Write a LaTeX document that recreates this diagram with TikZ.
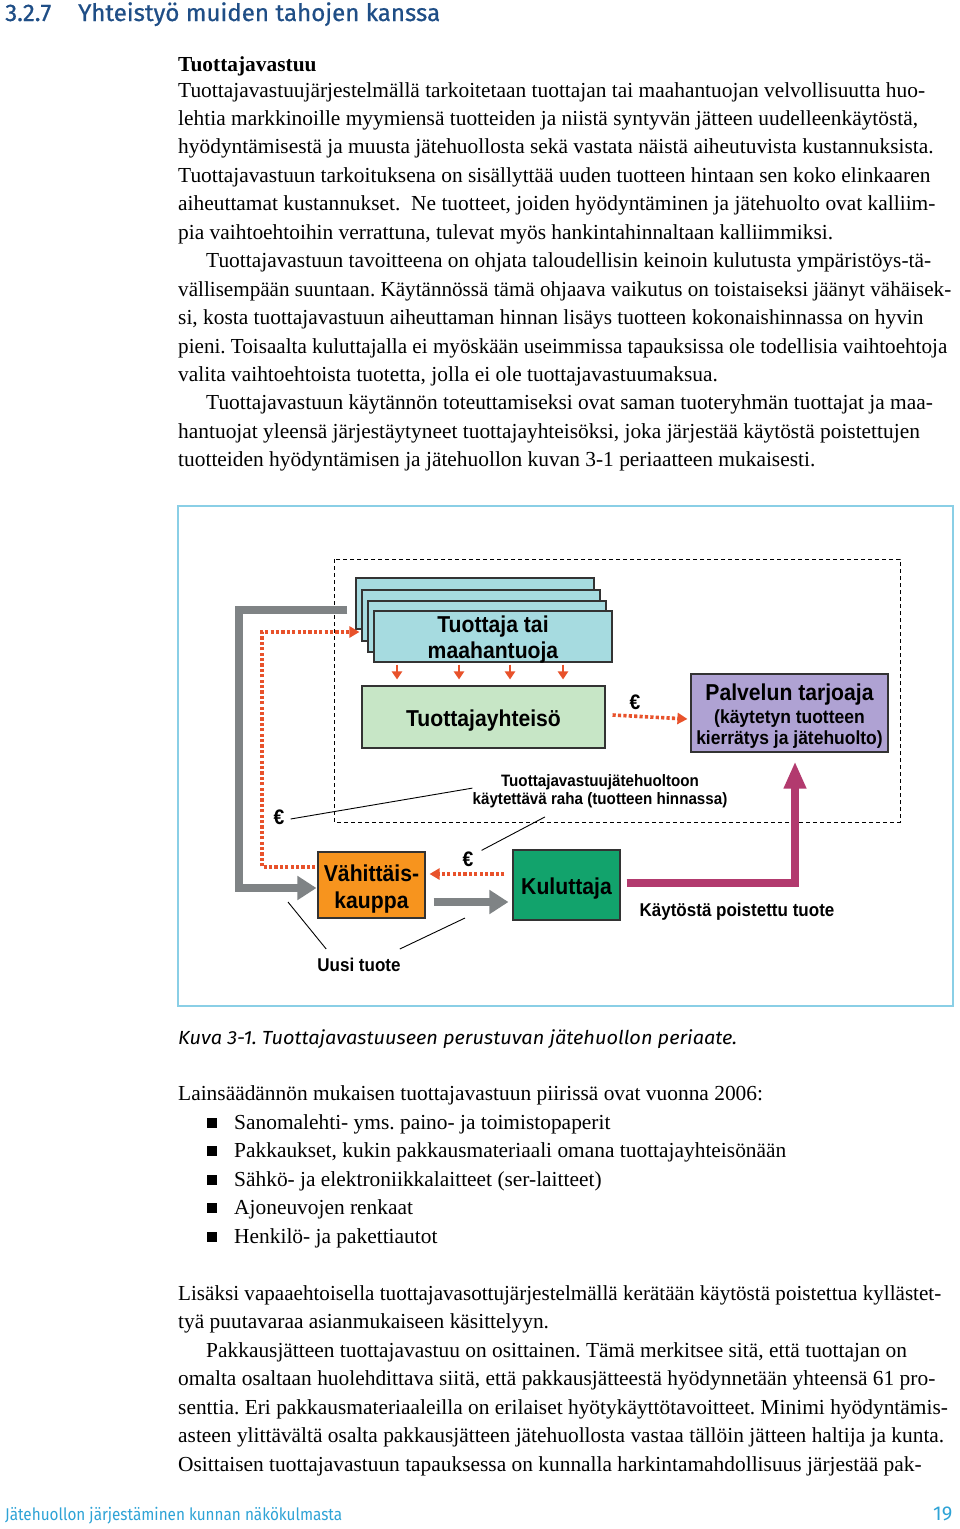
\documentclass[tikz,border=0pt]{standalone}
\usepackage{fontspec}
\setmainfont{Liberation Serif}
\newfontfamily\hsans{Fira Sans}
\newfontfamily\hsansh[FakeBold=0.7]{Fira Sans}
\newfontfamily\dsans[FakeStretch=0.92]{Liberation Sans}
\usetikzlibrary{arrows.meta}
\definecolor{navy}{HTML}{1F4E86}
\definecolor{footc}{HTML}{2EA3D6}
\definecolor{framec}{HTML}{8ACFE6}
\definecolor{cyanf}{HTML}{A6DBE0}
\definecolor{greenf}{HTML}{C7E6C6}
\definecolor{lavf}{HTML}{AFA2D3}
\definecolor{orangef}{HTML}{F7941E}
\definecolor{kulf}{HTML}{12A36C}
\definecolor{grayar}{HTML}{7F8385}
\definecolor{redc}{HTML}{E8522B}
\definecolor{magc}{HTML}{B23A6E}
\newcommand\fitw[2]{\resizebox{#1}{\height}{#2}}
\begin{document}
\frenchspacing
\begin{tikzpicture}[x=1pt,y=-1pt,
  every node/.style={inner sep=0pt},
  body/.style={anchor=base west,font=\fontsize{21.4}{28}\selectfont},
  box/.style={draw=black!80,line width=1.1pt},
  bfont/.style={align=center,font=\dsans\bfseries\fontsize{23}{26}\selectfont},
  lbl/.style={font=\dsans\bfseries\fontsize{18.5}{21}\selectfont},
  reddot/.style={draw=redc,line width=3.6pt,dash pattern=on 3.2pt off 2.2pt},
  redtip/.style={-{Triangle[length=10pt,width=11pt]}},
  grayarw/.style={draw=grayar,line width=8.5pt,-{Triangle[length=19pt,width=23pt]}},
  leader/.style={draw=black,line width=0.9pt},
  sqbullet/.style={fill=black,minimum size=10pt}
]
\useasboundingbox (0,0) rectangle (960,1529);
\fill[white] (0,0) rectangle (960,1529);

% ---------- heading ----------
\node[anchor=base west,font=\hsansh\fontsize{24}{28}\selectfont,text=navy] (sec) at (5,21) {3.2.7};
\node[anchor=base west,font=\hsansh\fontsize{24}{28}\selectfont,text=navy] (sect) at (78,21) {\fitw{362pt}{Yhteistyö muiden tahojen kanssa}};

% ---------- upper body text ----------
\node[body] (h1) at (178,71) {\bfseries Tuottajavastuu};
\node[body] (l1) at (178,97) {Tuottajavastuujärjestelmällä tarkoitetaan tuottajan tai maahantuojan velvollisuutta huo-};
\node[body] (l2) at (178,125.45) {lehtia markkinoille myymiensä tuotteiden ja niistä syntyvän jätteen uudelleenkäytöstä,};
\node[body] (l3) at (178,153.9) {hyödyntämisestä ja muusta jätehuollosta sekä vastata näistä aiheutuvista kustannuksista.};
\node[body] (l4) at (178,182.35) {Tuottajavastuun tarkoituksena on sisällyttää uuden tuotteen hintaan sen koko elinkaaren};
\node[body] (l5) at (178,210.8) {aiheuttamat kustannukset.\ \ Ne tuotteet, joiden hyödyntäminen ja jätehuolto ovat kalliim-};
\node[body] (l6) at (178,239.25) {pia vaihtoehtoihin verrattuna, tulevat myös hankintahinnaltaan kalliimmiksi.};
\node[body] (l7) at (206,267.7) {Tuottajavastuun tavoitteena on ohjata taloudellisin keinoin kulutusta ympäristöys-tä-};
\node[body] (l8) at (178,296.15) {\fitw{773pt}{vällisempään suuntaan. Käytännössä tämä ohjaava vaikutus on toistaiseksi jäänyt vähäisek-}};
\node[body] (l9) at (178,324.6) {si, kosta tuottajavastuun aiheuttaman hinnan lisäys tuotteen kokonaishinnassa on hyvin};
\node[body] (l10) at (178,353.05) {\fitw{769pt}{pieni. Toisaalta kuluttajalla ei myöskään useimmissa tapauksissa ole todellisia vaihtoehtoja}};
\node[body] (l11) at (178,381.5) {valita vaihtoehtoista tuotetta, jolla ei ole tuottajavastuumaksua.};
\node[body] (l12) at (206,409.95) {Tuottajavastuun käytännön toteuttamiseksi ovat saman tuoteryhmän tuottajat ja maa-};
\node[body] (l13) at (178,438.4) {hantuojat yleensä järjestäytyneet tuottajayhteisöksi, joka järjestää käytöstä poistettujen};
\node[body] (l14) at (178,466.85) {tuotteiden hyödyntämisen ja jätehuollon kuvan 3-1 periaatteen mukaisesti.};

% ---------- figure frame ----------
\draw[framec,line width=1.6pt] (178,506) rectangle (953,1006);
\draw[black,line width=0.9pt,dash pattern=on 4pt off 3pt] (334,559) rectangle (900,822);

% ---------- boxes ----------
\node[box,fill=cyanf,minimum width=238pt,minimum height=51pt] (p1) at (475,603.5) {};
\node[box,fill=cyanf,minimum width=238pt,minimum height=51pt] (p2) at (481,615.5) {};
\node[box,fill=cyanf,minimum width=238pt,minimum height=51pt] (p3) at (487,626.5) {};
\node[box,fill=cyanf,minimum width=238pt,minimum height=51pt] (p4) at (493,636.5) {};
\node[bfont] (p4t) at (493,640) {Tuottaja tai\\maahantuoja};
\node[box,fill=greenf,minimum width=243pt,minimum height=62pt] (ty) at (483.5,717) {};
\node[bfont] (tyt) at (483.5,721) {Tuottajayhteisö};
\node[box,fill=lavf,minimum width=197pt,minimum height=78pt] (pt) at (789.5,713) {};
\node[align=center,font=\dsans\bfseries\fontsize{19}{21}\selectfont] (ptt) at (789.5,716) {{\fontsize{23}{26}\selectfont Palvelun tarjoaja}\\[2pt](käytetyn tuotteen\\kierrätys ja jätehuolto)};
\node[box,fill=orangef,minimum width=107pt,minimum height=66pt] (vk) at (371.5,885) {};
\node[bfont] (vkt) at (371.5,889) {Vähittäis-\\[1pt]kauppa};
\node[box,fill=kulf,minimum width=107pt,minimum height=70pt] (ku) at (566.5,885) {};
\node[bfont] (kut) at (566.5,889) {Kuluttaja};

% ---------- gray flow (new product) ----------
\coordinate (gc1) at (239,610);
\coordinate (gc2) at (239,888);
\draw[grayarw] ([xshift=-8pt]p1.west |- gc1) -- (gc1) -- (gc2) -- ([xshift=-1pt]vk.west |- gc2);
\draw[grayarw] ([xshift=8pt,yshift=-17pt]vk.east) -- ([xshift=-4pt,yshift=-17pt]ku.west);

% ---------- magenta flow (used product) ----------
\draw[draw=magc,line width=8pt,-{Triangle[length=27pt,width=21pt]}] ([xshift=6pt,yshift=2pt]ku.east) -| ([xshift=5.5pt,yshift=-9pt]pt.south);

% ---------- red money flows ----------
\coordinate (rc1) at (262,867);
\coordinate (rc2) at (262,632);
\draw[reddot,redtip] ([xshift=-2pt]vk.west |- rc1) -- (rc1) -- (rc2) -- ([xshift=-2pt]p2.west |- rc2);
\draw[reddot,redtip] ([xshift=-8pt,yshift=11pt]ku.west) -- ([xshift=4pt,yshift=11pt]vk.east);
\draw[reddot,redtip] ([xshift=7pt,yshift=2pt]ty.east) -- ([xshift=-3pt,yshift=-2pt]pt.west |- ty.east);
\foreach \xx in {397,459,510,563}{
  \draw[draw=redc,line width=2pt,-{Triangle[length=8pt,width=10pt]}] ([yshift=-2pt]p4.south -| \xx,0) -- ([yshift=6pt]ty.north -| \xx,0);
}

% ---------- labels ----------
\node[font=\dsans\bfseries\fontsize{21}{24}\selectfont] (eur1) at (279,817) {€};
\node[font=\dsans\bfseries\fontsize{21}{24}\selectfont] (eur2) at (635,702) {€};
\node[font=\dsans\bfseries\fontsize{21}{24}\selectfont] (eur3) at (468,859) {€};
\node[align=center,font=\dsans\bfseries\fontsize{16.5}{18}\selectfont] (raha) at (600,791) {Tuottajavastuujätehuoltoon\\käytettävä raha (tuotteen hinnassa)};
\node[lbl] (kpt) at (737,912) {Käytöstä poistettu tuote};
\node[lbl] (uusi) at (359,965) {Uusi tuote};

\coordinate (ug1) at (288,902);
\coordinate (ug2) at (465,918);
\draw[leader] ([xshift=6pt,yshift=-2pt]eur1.east) -- ([yshift=-14pt]raha.north west);
\draw[leader] ([xshift=-55pt,yshift=-9pt]raha.south) -- ([xshift=8pt,yshift=1pt]eur3.north east);
\draw[leader] ([xshift=9pt,yshift=9pt]uusi.north west) -- (ug1);
\draw[leader] ([xshift=-1pt,yshift=9pt]uusi.north east) -- (ug2);

% ---------- caption ----------
\node[anchor=base west,font=\hsans\itshape\fontsize{19}{22}\selectfont] (cap) at (178,1044) {\fitw{559pt}{Kuva 3-1. Tuottajavastuuseen perustuvan jätehuollon periaate.}};

% ---------- lower body ----------
\node[body] (m0) at (178,1100) {Lainsäädännön mukaisen tuottajavastuun piirissä ovat vuonna 2006:};
\node[sqbullet] (b1) at (212,1122.5) {};
\node[sqbullet] (b2) at (212,1151) {};
\node[sqbullet] (b3) at (212,1179.5) {};
\node[sqbullet] (b4) at (212,1208) {};
\node[sqbullet] (b5) at (212,1236.5) {};
\node[body] (m1) at (234,1129) {Sanomalehti- yms. paino- ja toimistopaperit};
\node[body] (m2) at (234,1157.5) {Pakkaukset, kukin pakkausmateriaali omana tuottajayhteisönään};
\node[body] (m3) at (234,1186) {Sähkö- ja elektroniikkalaitteet (ser-laitteet)};
\node[body] (m4) at (234,1214.5) {Ajoneuvojen renkaat};
\node[body] (m5) at (234,1243) {Henkilö- ja pakettiautot};

\node[body] (n1) at (178,1300) {\fitw{763pt}{Lisäksi vapaaehtoisella tuottajavasottujärjestelmällä kerätään käytöstä poistettua kyllästet-}};
\node[body] (n2) at (178,1328.5) {tyä puutavaraa asianmukaiseen käsittelyyn.};
\node[body] (n3) at (206,1357) {Pakkausjätteen tuottajavastuu on osittainen. Tämä merkitsee sitä, että tuottajan on};
\node[body] (n4) at (178,1385.5) {omalta osaltaan huolehdittava siitä, että pakkausjätteestä hyödynnetään yhteensä 61 pro-};
\node[body] (n5) at (178,1414) {senttia. Eri pakkausmateriaaleilla on erilaiset hyötykäyttötavoitteet. Minimi hyödyntämis-};
\node[body] (n6) at (178,1442.5) {asteen ylittävältä osalta pakkausjätteen jätehuollosta vastaa tällöin jätteen haltija ja kunta.};
\node[body] (n7) at (178,1471) {Osittaisen tuottajavastuun tapauksessa on kunnalla harkintamahdollisuus järjestää pak-};

% ---------- footer ----------
\node[anchor=base west,font=\hsans\fontsize{17}{20}\selectfont,text=footc] (foot) at (5,1520) {\fitw{337pt}{Jätehuollon järjestäminen kunnan näkökulmasta}};
\node[anchor=base west,font=\hsans\fontsize{20}{22}\selectfont,text=footc] (pg) at (933,1520) {19};
\end{tikzpicture}
\end{document}
